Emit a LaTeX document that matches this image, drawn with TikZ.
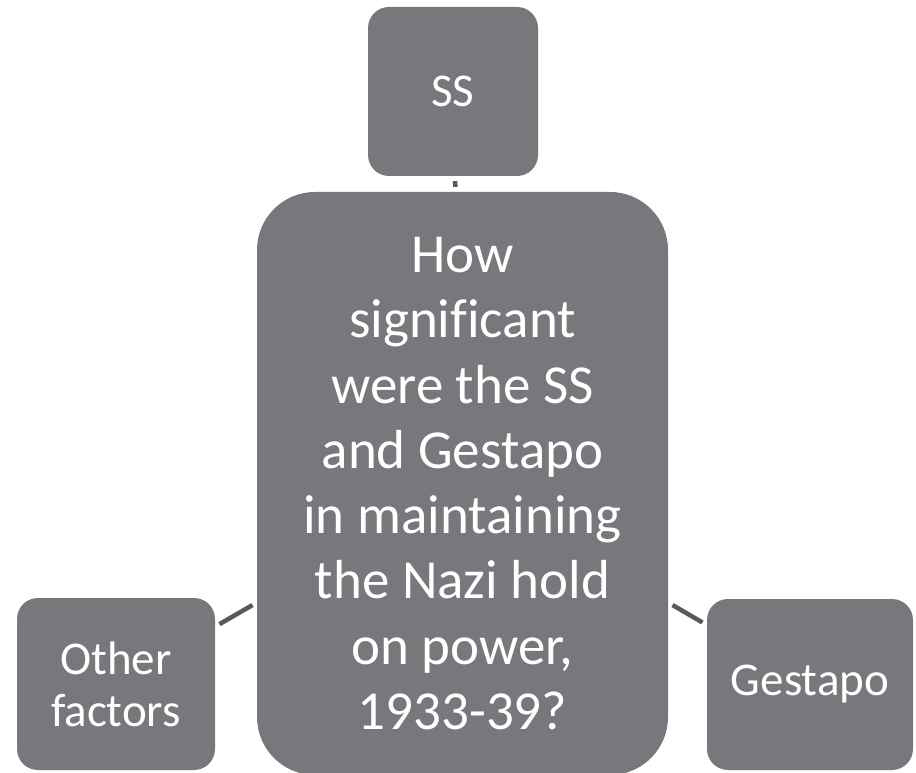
\documentclass[tikz,border=0pt]{standalone}
\usepackage{fontspec}
\setmainfont{Carlito}[Ligatures=NoCommon]
\usetikzlibrary{positioning}

\definecolor{boxgray}{HTML}{77787B}
\definecolor{linkgray}{HTML}{58595C}

\tikzset{
    factor/.style={fill=boxgray, text=white, rounded corners=21pt, inner sep=0pt,
        align=center, font=\fontsize{47}{52}\selectfont},
    question/.style={fill=boxgray, text=white, rounded corners=58pt, inner sep=0pt,
        align=center, font=\fontsize{55}{65.3}\selectfont},
    link/.style={linkgray, line width=4.5pt, shorten <=5pt, shorten >=5pt}
}

\begin{document}
\begin{tikzpicture}[x=1pt, y=1pt]
        % Define canvas
        \useasboundingbox (0,0) rectangle (916,772);
        \clip (0,0) rectangle (916,772);

        % Draw boxes
        \node[question, minimum width=411pt, minimum height=583pt] (ctr) at (462.5,288.5)
            {How\\significant\\were the SS\\and Gestapo\\in maintaining\\the Nazi hold\\on power,\\1933-39?};
        \node[factor, minimum width=170pt, minimum height=169pt] (ss) at (453,680.5) {SS};
        \node[factor, minimum width=198pt, minimum height=172pt] (other) at (116,88) {Other\\factors};
        \node[factor, minimum width=206pt, minimum height=171pt] (gestapo) at (810,87.5) {Gestapo};

        % Draw links
        \draw[link] (ss) -- (ctr);
        \draw[link] (ctr) -- (other);
        \draw[link] (ctr) -- (gestapo);
\end{tikzpicture}
\end{document}
